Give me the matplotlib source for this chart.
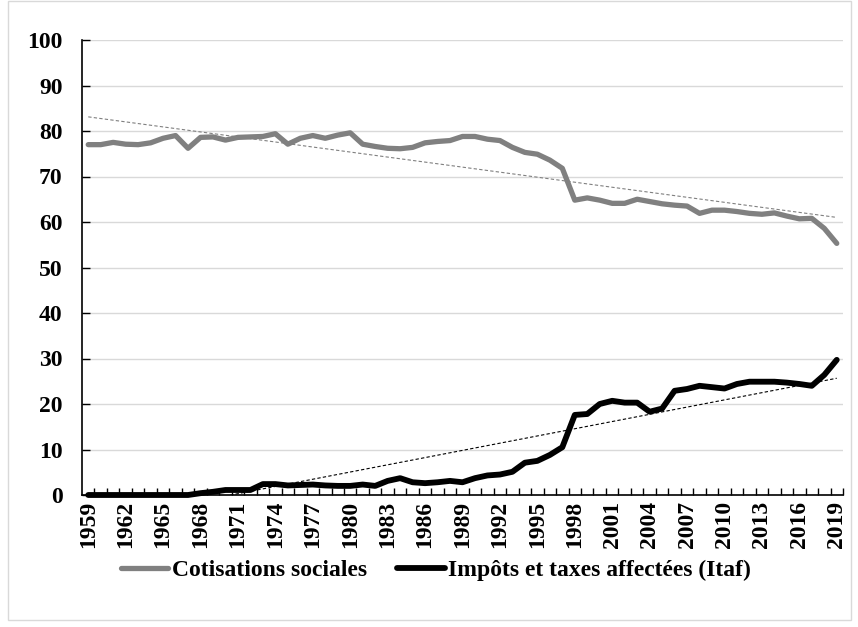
import numpy as np
import matplotlib
matplotlib.use("Agg")
import matplotlib.pyplot as plt
from matplotlib.patches import Rectangle

years = list(range(1959, 2020))

cotisations = [
    77.0, 77.0, 77.5, 77.1, 77.0, 77.4, 78.4, 79.0, 76.2, 78.6,
    78.7, 78.0, 78.6, 78.7, 78.8, 79.4, 77.1, 78.4, 79.0, 78.4,
    79.1, 79.6, 77.1, 76.6, 76.2, 76.1, 76.4, 77.4, 77.7, 77.9,
    78.8, 78.8, 78.2, 77.9, 76.4, 75.3, 74.9, 73.6, 71.8, 64.8,
    65.3, 64.8, 64.1, 64.1, 65.0, 64.5, 64.0, 63.7, 63.5, 61.9,
    62.6, 62.6, 62.3, 61.9, 61.7, 62.0, 61.3, 60.7, 60.8, 58.6,
    55.3,
]

itaf = [
    0.0, 0.0, 0.0, 0.0, 0.0, 0.0, 0.0, 0.0, 0.0, 0.4,
    0.7, 1.1, 1.1, 1.1, 2.4, 2.4, 2.1, 2.2, 2.3, 2.1,
    2.0, 2.0, 2.3, 2.0, 3.1, 3.7, 2.8, 2.6, 2.8, 3.1,
    2.8, 3.7, 4.3, 4.5, 5.1, 7.1, 7.5, 8.8, 10.5, 17.6,
    17.8, 20.0, 20.7, 20.3, 20.3, 18.3, 19.0, 22.9, 23.3, 24.0,
    23.7, 23.4, 24.4, 24.9, 24.9, 24.9, 24.7, 24.4, 24.0, 26.4,
    29.7,
]

label_cot = "Cotisations sociales"
label_itaf = "Impôts et taxes affectées (Itaf)"
y_ticks = list(range(0, 101, 10))
x_label_years = years[::3]

plt.rcParams['font.family'] = ['Liberation Serif', 'DejaVu Serif']
plt.rcParams['font.weight'] = 'bold'

fig = plt.figure(figsize=(8.58, 6.27), dpi=100)
W, H = 858, 627
ax = fig.add_axes([82 / W, 1 - 495 / H, (843 - 82) / W, (495 - 40) / H])

# light outer frame
fig.patches.append(Rectangle((8 / W, 7 / H), (851 - 8) / W, (626 - 7) / H,
                             transform=fig.transFigure, fill=False,
                             edgecolor='#d9d9d9', linewidth=1.0))

idx = np.arange(len(years))
ax.plot(idx, cotisations, color='#808080', lw=3.8, solid_capstyle='round',
        solid_joinstyle='round', clip_on=False, zorder=3, label=label_cot)
ax.plot(idx, itaf, color='#000000', lw=4.2, solid_capstyle='round',
        solid_joinstyle='round', clip_on=False, zorder=3, label=label_itaf)

# linear trend lines
p1 = np.polyfit(idx, cotisations, 1)
p2 = np.polyfit(idx, itaf, 1)
ax.plot(idx, np.polyval(p1, idx), color='#808080', lw=0.8, ls=(0, (3, 2)), zorder=4)
ax.plot(idx, np.polyval(p2, idx), color='#000000', lw=0.8, ls=(0, (3, 2)), zorder=4)

ax.set_xlim(-0.5, len(years) - 0.5)
ax.set_ylim(0, 100)
ax.set_yticks(y_ticks)
ax.set_yticklabels([str(v) for v in y_ticks], fontsize=17, fontweight='bold')
ax.yaxis.grid(True, color='#d9d9d9', lw=1.0)
ax.set_axisbelow(True)

ax.set_xticks([years.index(y) for y in x_label_years])
ax.set_xticklabels([str(y) for y in x_label_years], rotation=90, fontsize=17,
                   fontweight='bold')
ax.set_xticks(np.arange(0.5, len(years) - 0.4, 1.0), minor=True)
ax.tick_params(axis='x', which='major', length=0, pad=4)
ax.tick_params(axis='x', which='minor', direction='in', length=5, width=1, color='black')
ax.tick_params(axis='y', which='major', direction='in', length=6, width=1, pad=14)

for s in ['top', 'right']:
    ax.spines[s].set_visible(False)
for s in ['left', 'bottom']:
    ax.spines[s].set_color('black')
    ax.spines[s].set_linewidth(1.2)

leg = fig.legend(loc='center', bbox_to_anchor=(436 / W, 1 - 570 / H), ncol=2,
                 frameon=False, handlelength=2.0, columnspacing=1.3,
                 handletextpad=0.15, prop={'weight': 'bold', 'size': 17})

fig.savefig('out.png', dpi=100)
